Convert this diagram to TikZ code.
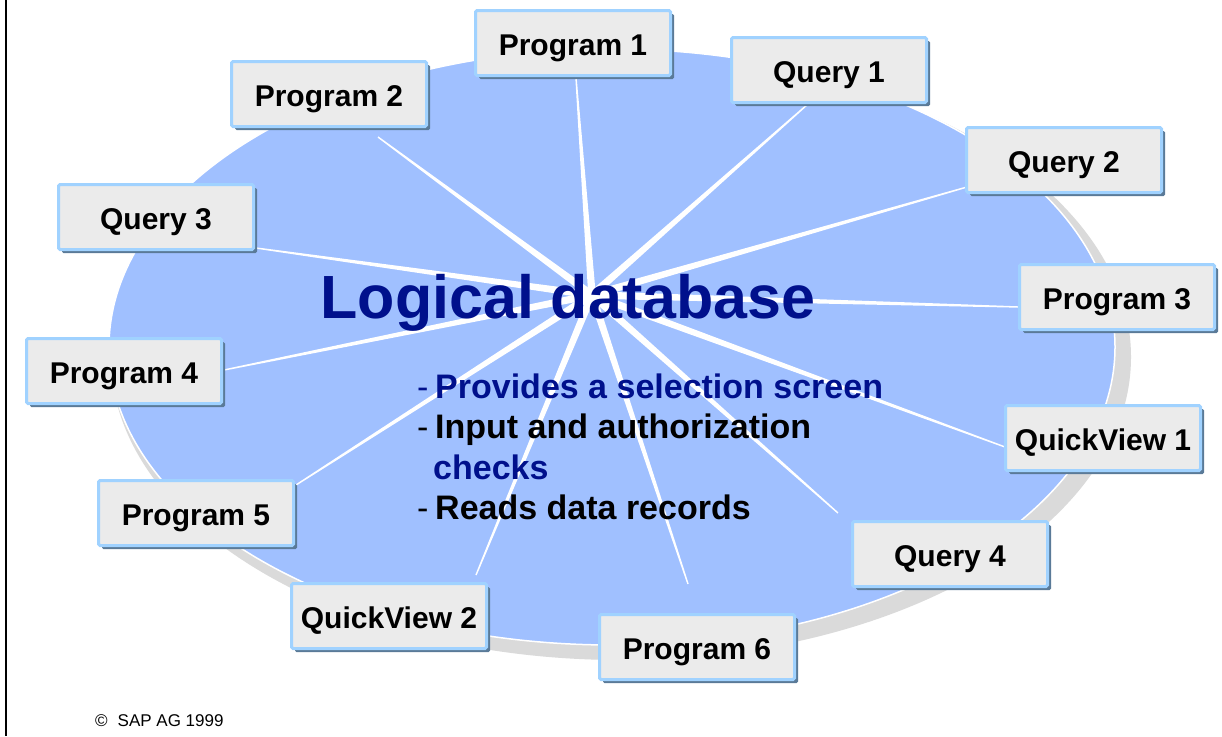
\documentclass[tikz,border=0pt]{standalone}
\usepackage{fontspec}
\setmainfont{Liberation Sans}
\usetikzlibrary{calc,shadows}
\definecolor{dbblue}{RGB}{160,192,255}
\definecolor{dbshadow}{RGB}{218,218,218}
\definecolor{navy}{RGB}{0,16,140}
\definecolor{boxfill}{RGB}{235,235,235}
\definecolor{boxline}{RGB}{160,210,255}
\definecolor{boxshade}{RGB}{90,122,152}
% tapered white ray from the hub to a given end point
\newcommand\dbspoke[1]{%
  \fill[spoke] ($(#1)!0.7pt!90:(hub)$) -- ($(hub)!3.8pt!-90:(#1)$)
    -- ($(hub)!3.8pt!90:(#1)$) -- ($(#1)!0.7pt!-90:(hub)$) -- cycle;}
\begin{document}
\begin{tikzpicture}[x=1pt,y=-1pt,
  appbox/.style={draw=boxline, line width=3pt, fill=boxfill, rounded corners=1.5pt,
    minimum width=195pt, minimum height=65pt, inner sep=0pt,
    text height=30pt, text depth=6pt,
    font=\fontsize{30}{34}\selectfont\bfseries,
    drop shadow={shadow xshift=3.5pt, shadow yshift=-3.5pt, fill=boxshade, opacity=1}},
  spoke/.style={fill=white},
  bullet/.style={anchor=base west, inner sep=0pt, font=\fontsize{34}{40}\selectfont\bfseries}
]
\useasboundingbox (0,0) rectangle (1222,736);
\fill[white] (0,0) rectangle (1222,736);
\draw[line width=2.5pt] (6,0) -- (6,736);

% database disc with its shadow
\fill[dbshadow] (621,357) ellipse [x radius=510, y radius=303];
\fill[dbblue, draw=white, line width=1.5pt] (612,347) ellipse [x radius=503, y radius=298];

% rays
\coordinate (hub) at (592,295);
\coordinate (e1) at (576,78);
\coordinate (e2) at (808,104);
\coordinate (e3) at (967,187);
\coordinate (e4) at (1019,307);
\coordinate (e5) at (1005,447);
\coordinate (e6) at (838,513);
\coordinate (e7) at (688,584);
\coordinate (e8) at (476,575);
\coordinate (e9) at (296,485);
\coordinate (e10) at (224,370);
\coordinate (e11) at (256,248);
\coordinate (e12) at (378,137);
\foreach \e in {e1,e2,e3,e4,e5,e6,e7,e8,e9,e10,e11,e12} {\dbspoke{\e}}

% programs and queries
\node[appbox] (prog1) at (573,43) {Program 1};
\node[appbox] (query1) at (829,70) {Query 1};
\node[appbox] (query2) at (1064,160) {Query 2};
\node[appbox] (prog3) at (1117,297) {Program 3};
\node[appbox] (qview1) at (1103,438) {QuickView 1};
\node[appbox] (query4) at (950,554) {Query 4};
\node[appbox] (prog6) at (697,647) {Program 6};
\node[appbox] (qview2) at (389,616) {QuickView 2};
\node[appbox] (prog5) at (196,513) {Program 5};
\node[appbox] (prog4) at (124,371) {Program 4};
\node[appbox] (query3) at (156,217) {Query 3};
\node[appbox] (prog2) at (329,94) {Program 2};

% title and bullet list
\node[anchor=base, inner sep=0pt, text=navy, font=\fontsize{61}{70}\selectfont\bfseries]
  (title) at (568,318) {Logical database};
\node[bullet, text=navy] (d1) at (417,398) {\mdseries -};
\node[bullet, text=navy] (b1) at (435,398) {Provides a selection screen};
\node[bullet] (d2) at (417,438) {\mdseries -};
\node[bullet] (b2) at (435,438) {Input and authorization};
\node[bullet, text=navy] (b2b) at (433,479) {checks};
\node[bullet] (d3) at (417,519) {\mdseries -};
\node[bullet] (b3) at (435,519) {Reads data records};

% footer
\node[anchor=base west, inner sep=0pt, font=\fontsize{17}{20}\selectfont]
  (copy) at (95,726) {©\hspace{10pt}SAP AG 1999};
\end{tikzpicture}
\end{document}
